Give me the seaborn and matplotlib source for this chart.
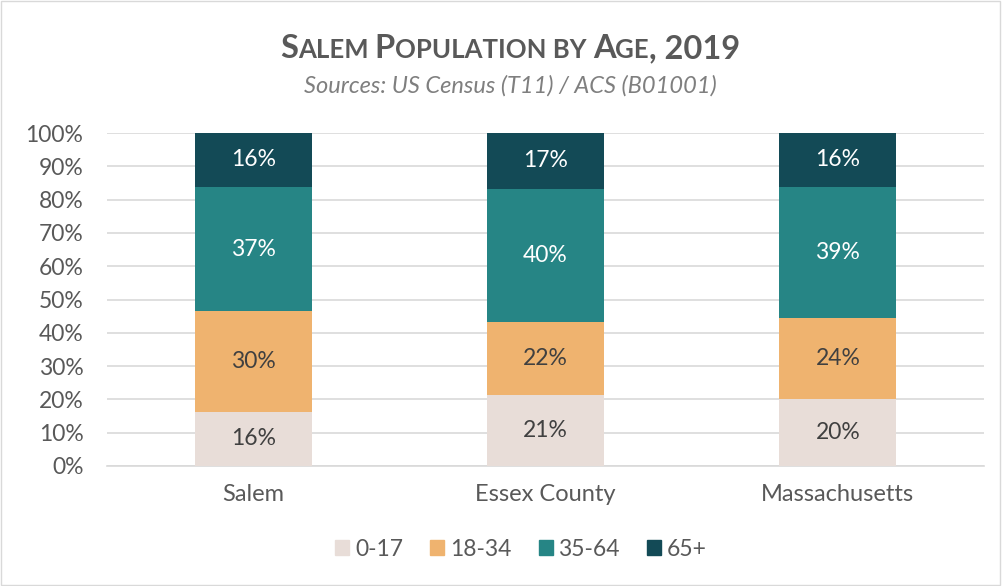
import matplotlib
matplotlib.use('Agg')
import matplotlib.pyplot as plt
import matplotlib.patches as mpatches
import numpy as np
import pandas as pd
import seaborn as sns

# ==================== DATA ====================
regions = ['Salem', 'Essex County', 'Massachusetts']
age_groups = ['0-17', '18-34', '35-64', '65+']
share_0_17 = [16.3, 21.4, 20.0]
share_18_34 = [30.2, 21.7, 24.4]
share_35_64 = [37.3, 40.2, 39.4]
share_65_up = [16.2, 16.7, 16.2]
colors = ['#E8DDD8', '#EFB36F', '#268585', '#134A56']
label_colors = ['#404040', '#404040', 'white', 'white']

sns.set_theme(style='white')
plt.rcParams['font.family'] = ['Lato', 'DejaVu Sans']

df = pd.DataFrame({'region': regions, '0-17': share_0_17, '18-34': share_18_34,
                   '35-64': share_35_64, '65+': share_65_up})
cum = df[age_groups].cumsum(axis=1)
cum = cum.div(cum['65+'], axis=0) * 100  # normalise to 100%

fig = plt.figure(figsize=(10.02, 5.86), dpi=100)
ax = fig.add_axes([107 / 1002, 1 - 466 / 586, (984 - 107) / 1002, (466 - 133) / 586])

# stacked bars: draw cumulative totals from the top layer down
for grp, col in zip(age_groups[::-1], colors[::-1]):
    sns.barplot(x=df['region'], y=cum[grp], color=col, width=0.4, ax=ax,
                saturation=1, zorder=3, edgecolor='none')

# data labels
for i in range(len(regions)):
    lower = 0
    for grp, lc in zip(age_groups, label_colors):
        top = cum.loc[i, grp]
        ax.text(i, (lower + top) / 2, f'{df.loc[i, grp]:.0f}%', ha='center', va='center',
                fontsize=16.5, color=lc, zorder=4)
        lower = top

ax.set_ylim(0, 100)
ax.set_xlim(-0.5, 2.5)
ax.set_yticks(np.arange(0, 101, 10))
ax.set_yticklabels([f'{v}%' for v in range(0, 101, 10)])
ax.yaxis.grid(True, color='#D9D9D9', linewidth=1.2, zorder=0)
ax.set_axisbelow(True)
for s in ['top', 'right', 'left']:
    ax.spines[s].set_visible(False)
ax.spines['bottom'].set_color('#D9D9D9')
ax.spines['bottom'].set_linewidth(1.2)
ax.tick_params(axis='both', length=0, labelsize=16.5, colors='#595959')
ax.tick_params(axis='y', pad=17)
ax.tick_params(axis='x', labelsize=17, pad=13)
ax.set_xlabel('')
ax.set_ylabel('')

# title in small caps
title_parts = [('S', 23.5), ('ALEM ', 18.5), ('P', 23.5), ('OPULATION BY ', 18.5),
               ('A', 23.5), ('GE', 18.5), (', 2019', 23.5)]
fig.canvas.draw()
renderer = fig.canvas.get_renderer()
widths = []
for txt, fs in title_parts:
    t = fig.text(0, 0, txt, fontsize=fs, fontweight='bold')
    widths.append(t.get_window_extent(renderer).width)
    t.remove()
x = 510 - sum(widths) / 2
for (txt, fs), w in zip(title_parts, widths):
    fig.text(x / 1002, 1 - 58 / 586, txt, fontsize=fs, fontweight='bold',
             color='#595959', ha='left', va='baseline')
    x += w

fig.text(510 / 1002, 1 - 86 / 586, 'Sources: US Census (T11) / ACS (B01001)',
         fontsize=17, style='italic', color='#7F7F7F', ha='center', va='center')

# legend
handles = [mpatches.Patch(color=c, label=g) for g, c in zip(age_groups, colors)]
fig.legend(handles=handles, loc='center', bbox_to_anchor=(521 / 1002, 1 - 549 / 586),
           ncol=4, frameon=False, fontsize=16.5, handlelength=0.6, handleheight=0.6,
           handletextpad=0.25, columnspacing=1.2, labelcolor='#595959')

# outer border
fig.patches.append(mpatches.Rectangle((0.001, 0.002), 0.997, 0.996, transform=fig.transFigure,
                                      fill=False, edgecolor='#D9D9D9', linewidth=1))

fig.savefig('out.png', dpi=100)
